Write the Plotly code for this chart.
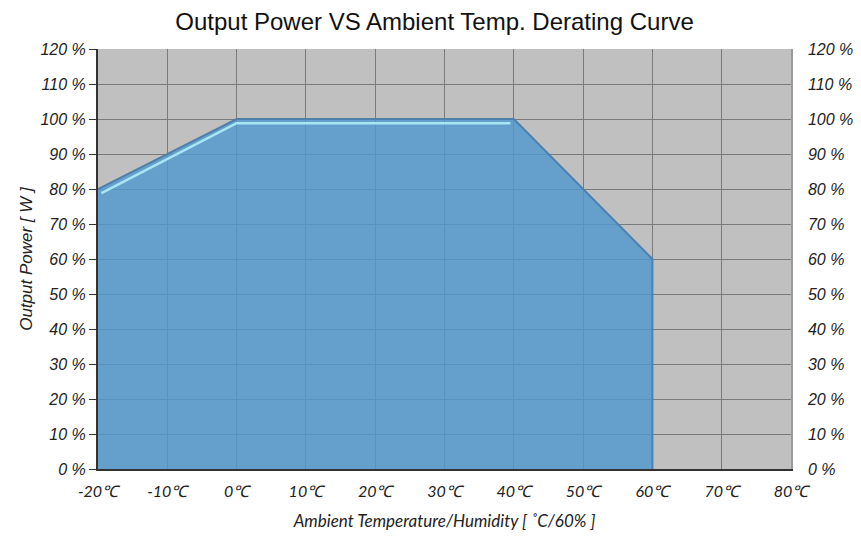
import plotly.graph_objects as go

# Data
temps = [-20, 0, 40, 60, 60]
power = [80, 100, 100, 60, 0]
highlight_temps = [-19.5, 0, 39.5]
highlight_power = [78.8, 98.8, 98.8]
x_ticks = [-20, -10, 0, 10, 20, 30, 40, 50, 60, 70, 80]
x_labels = [f"{t}℃" for t in x_ticks]
y_ticks = [0, 10, 20, 30, 40, 50, 60, 70, 80, 90, 100, 110, 120]
y_labels = [f"{v} %" for v in y_ticks]

fig = go.Figure()
fig.add_trace(go.Scatter(
    x=temps, y=power, mode="lines", fill="tozeroy",
    fillcolor="rgba(81,152,207,0.82)",
    line=dict(color="#4f80ad", width=2),
    hoverinfo="skip", showlegend=False,
))
fig.add_trace(go.Scatter(
    x=highlight_temps, y=highlight_power, mode="lines",
    line=dict(color="#a9e6f4", width=2.5),
    hoverinfo="skip", showlegend=False,
))
# dummy for right axis
fig.add_trace(go.Scatter(x=[temps[0]], y=[power[0]], yaxis="y2",
                         mode="markers", marker=dict(opacity=0),
                         hoverinfo="skip", showlegend=False))

tickfont = dict(family="Liberation Sans, Arial", size=16, color="#222", style="italic")
xfont = dict(family="Lato, Calibri", size=16, color="#222", style="italic")

fig.update_layout(
    width=853, height=528,
    margin=dict(l=90, r=70, t=41, b=67),
    paper_bgcolor="white",
    plot_bgcolor="#c0c0c0",
    title=dict(text="Output Power VS Ambient Temp. Derating Curve",
               x=0.5, xanchor="center", y=0.974, yanchor="middle",
               font=dict(family="Liberation Sans Narrow, Liberation Sans, Arial", size=24, color="#111")),
    xaxis=dict(range=[-20, 80], tickvals=x_ticks, ticktext=x_labels,
               showgrid=True, gridcolor="#7a7a7a", gridwidth=1.3,
               showline=True, linecolor="#333", linewidth=2,
               ticks="outside", ticklen=7, tickcolor="rgba(0,0,0,0)",
               tickfont=xfont, zeroline=False, automargin=False,
               title=dict(text="Ambient Temperature/Humidity [ ˚C/60% ]",
                          font=dict(family="Lato, Calibri", size=17, color="#222", style="italic"),
                          standoff=16)),
    yaxis=dict(range=[0, 120], tickvals=y_ticks, ticktext=y_labels,
               showgrid=True, gridcolor="#7a7a7a", gridwidth=1.3,
               showline=True, linecolor="#333", linewidth=2,
               ticks="outside", ticklen=7, tickcolor="#333",
               tickfont=tickfont, zeroline=False, automargin=False,
               title=dict(text="Output Power [ W ]",
                          font=dict(family="Liberation Sans, Arial", size=17, color="#222", style="italic"),
                          standoff=3)),
    yaxis2=dict(range=[0, 120], tickvals=y_ticks, ticktext=y_labels,
                overlaying="y", side="right", showgrid=False,
                showline=True, linecolor="#9a9a9a", linewidth=1.5,
                ticks="outside", ticklen=12, tickcolor="rgba(0,0,0,0)",
                tickfont=tickfont, zeroline=False, automargin=False),
)

fig.write_html("out.html")
